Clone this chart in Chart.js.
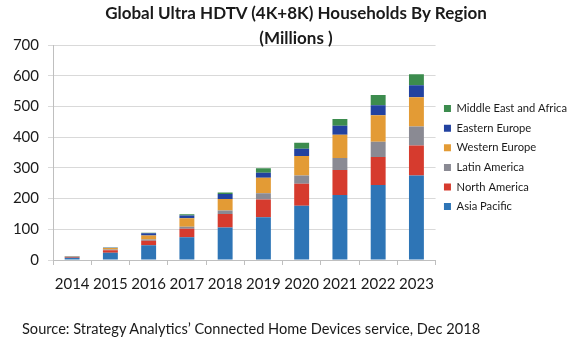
<!DOCTYPE html>
<html>
<head>
<meta charset="utf-8">
<script src="https://cdn.jsdelivr.net/npm/chart.js@4.4.1/dist/chart.umd.min.js"></script>
<style>
    html, body { margin: 0; padding: 0; background: #fff; }
    #wrap { position: relative; width: 577px; height: 338px; overflow: hidden; font-family: Lato, 'Open Sans', sans-serif; color: #1a1a1a; }
    #chart { position: absolute; left: 0; top: 0; }
    .title { position: absolute; left: 0; width: 592px; text-align: center; font-weight: bold; font-size: 17px; line-height: 25px; white-space: nowrap; }
    .source { position: absolute; left: 22px; top: 319px; font-size: 14.6px; line-height: 20px; white-space: nowrap; }
</style>
</head>
<body>
<div id="wrap">
    <canvas id="chart" width="577" height="338"></canvas>
    <div class="title" style="top: 0px;">Global Ultra HDTV (4K+8K) Households By Region<br>(Millions )</div>
    <div class="source">Source: Strategy Analytics’ Connected Home Devices service, Dec 2018</div>
</div>
<script>
const years = ['2014', '2015', '2016', '2017', '2018', '2019', '2020', '2021', '2022', '2023'];

// households, millions
const asiaPacific   = [7, 24, 48, 74, 106, 139, 177, 212, 244, 275];
const northAmerica  = [3, 8, 15, 28, 44, 58, 71, 81, 91, 98];
const latinAmerica  = [1, 2, 4, 6, 11, 20, 27, 39, 50, 62];
const westernEurope = [1, 5, 13, 28, 38, 51, 64, 76, 86, 95];
const easternEurope = [0.5, 1, 7, 9, 16, 16, 23, 29, 33, 39];
const middleEast    = [0.5, 1, 2, 4, 5, 15, 20, 22, 33, 36];

const yTicks = [0, 100, 200, 300, 400, 500, 600, 700];

const labelFont = "Lato, 'Open Sans', sans-serif";

function series(label, data, color) {
    return {
        label: label,
        data: data,
        backgroundColor: color,
        borderWidth: 0,
        categoryPercentage: 1,
        barPercentage: 0.39
    };
}

const ctx = document.getElementById('chart');

new Chart(ctx, {
    type: 'bar',
    data: {
        labels: years,
        datasets: [
            series('Asia Pacific', asiaPacific, '#2e75b6'),
            series('North America', northAmerica, '#d63b2e'),
            series('Latin America', latinAmerica, '#8a8a93'),
            series('Western Europe', westernEurope, '#e39b35'),
            series('Eastern Europe', easternEurope, '#2242a0'),
            series('Middle East and Africa', middleEast, '#3c8c4e')
        ]
    },
    options: {
        responsive: false,
        animation: false,
        layout: {
            padding: { left: 0, right: 0, top: 45, bottom: 35 }
        },
        plugins: {
            title: { display: false },
            legend: {
                position: 'right',
                fullSize: false,
                reverse: true,
                title: {
                    display: true,
                    text: ' ',
                    font: { size: 1 },
                    padding: { top: 0, bottom: 9 }
                },
                labels: {
                    boxWidth: 7,
                    boxHeight: 7,
                    padding: 8.4,
                    color: '#1a1a1a',
                    font: { family: labelFont, size: 11.2 }
                }
            },
            tooltip: { enabled: false }
        },
        scales: {
            x: {
                stacked: true,
                grid: {
                    drawOnChartArea: false,
                    tickLength: 5,
                    color: '#bfbfbf'
                },
                border: { color: '#bfbfbf' },
                ticks: {
                    color: '#1a1a1a',
                    font: { family: labelFont, size: 15 },
                    maxRotation: 0,
                    autoSkip: false,
                    padding: 10
                }
            },
            y: {
                stacked: true,
                min: 0,
                max: 700,
                afterFit: function (axis) { axis.width = 53; },
                afterBuildTicks: function (axis) {
                    axis.ticks = yTicks.map(v => ({ value: v }));
                },
                grid: {
                    color: '#d9d9d9',
                    tickLength: 5
                },
                border: { color: '#bfbfbf' },
                ticks: {
                    color: '#1a1a1a',
                    font: { family: labelFont, size: 15 },
                    padding: 9
                }
            }
        }
    }
});
</script>
</body>
</html>
